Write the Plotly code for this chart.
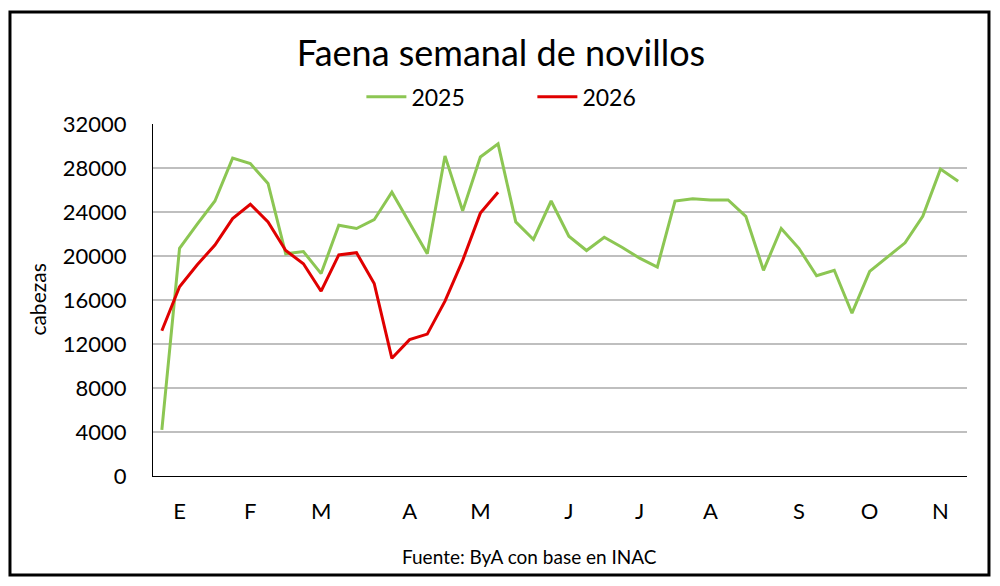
import plotly.graph_objects as go

# semanas (indice de semana del año)
semanas_2025 = list(range(46))
semanas_2026 = list(range(20))

faena_2025 = [4200, 20700, 22900, 25000, 28900, 28400, 26600, 20200, 20400, 18400,
              22800, 22500, 23300, 25800, 23000, 20200, 29100, 24100, 29000, 30200,
              23100, 21500, 25000, 21800, 20500, 21700, 20800, 19800, 19000, 25000,
              25200, 25100, 25100, 23600, 18700, 22500, 20700, 18200, 18700, 14800,
              18600, 19900, 21200, 23600, 27900, 26800]

faena_2026 = [13200, 17200, 19200, 21000, 23400, 24700, 23100, 20500, 19300, 16800,
              20100, 20300, 17500, 10700, 12400, 12900, 15900, 19600, 23900, 25800]

# etiquetas de meses
mes_pos = [1, 5, 9, 14, 18, 23, 27, 31, 36, 40, 44]
mes_txt = ["E", "F", "M", "A", "M", "J", "J", "A", "S", "O", "N"]

FONT = "Lato"

fig = go.Figure()
fig.add_trace(go.Scatter(x=semanas_2025, y=faena_2025, name="2025", mode="lines",
                         line={"color": "#8CC653", "width": 3}))
fig.add_trace(go.Scatter(x=semanas_2026, y=faena_2026, name="2026", mode="lines",
                         line={"color": "#E00000", "width": 3}))

# la pagina agrega ~8px de margen al body, se compensa en los margenes
fig.update_layout(
    width=1000, height=586,
    margin={"l": 145, "r": 41, "t": 116, "b": 118},
    paper_bgcolor="white", plot_bgcolor="white",
    font={"family": FONT, "color": "black", "size": 22},
    title={"text": "Faena semanal de novillos", "x": 0.493, "xanchor": "center",
           "y": 0.923, "yanchor": "middle", "font": {"size": 36, "family": FONT}},
    legend={"orientation": "h", "x": 0.256, "xanchor": "left", "y": 1.077,
            "yanchor": "middle", "font": {"size": 23}, "itemwidth": 40,
            "entrywidth": 116},
    showlegend=True,
    xaxis={"range": [-0.5, 45.5], "tickvals": mes_pos, "ticktext": mes_txt,
           "showgrid": False, "showline": True, "linecolor": "black", "linewidth": 1,
           "ticks": "", "tickfont": {"size": 22}, "zeroline": False,
           "ticklabelstandoff": 16},
    yaxis={"range": [0, 32000], "dtick": 4000, "showgrid": True, "gridcolor": "#BFBFBF",
           "gridwidth": 1.5, "showline": True, "linecolor": "black", "linewidth": 1,
           "ticks": "", "tickfont": {"size": 22}, "zeroline": False,
           "tickformat": "d", "ticklabelstandoff": 21},
)

fig.add_annotation(text="cabezas", xref="paper", yref="paper", x=-0.143, y=0.5,
                   xanchor="center", yanchor="middle",
                   textangle=-90, showarrow=False, font={"size": 21})
fig.add_annotation(text="Fuente: ByA con base en INAC", xref="paper", yref="paper",
                   x=0.463, y=-0.230, xanchor="center", yanchor="middle",
                   showarrow=False, font={"size": 19})

# marco exterior
fig.add_shape(type="rect", xref="paper", yref="paper", x0=-0.1757, x1=1.027,
              y0=-0.281, y1=1.318, line={"color": "black", "width": 3})

fig.write_html("out.html")
